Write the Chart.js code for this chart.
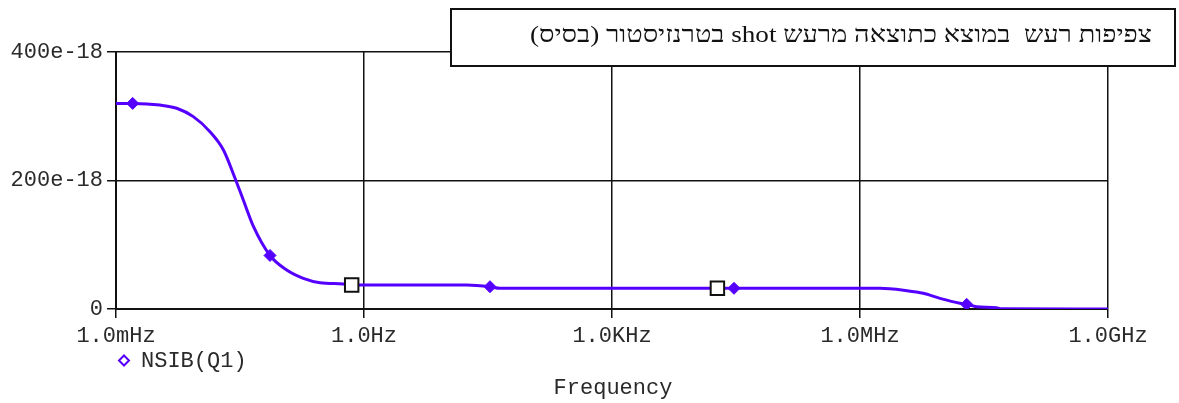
<!DOCTYPE html>
<html>
<head>
<meta charset="utf-8">
<script src="https://cdn.jsdelivr.net/npm/chart.js@4.4.1/dist/chart.umd.min.js"></script>
<style>
  html, body { margin: 0; padding: 0; background: #ffffff; }
  #wrap { width: 1179px; height: 403px; }
</style>
</head>
<body>
<div id="wrap"><canvas id="c" width="1179" height="403"></canvas></div>
<script>
// ---- Data ----
const titleText = "צפיפות רעש  במוצא כתוצאה מרעש shot בטרנזיסטור (בסיס)";
const seriesName = "NSIB(Q1)";
const xAxisTitle = "Frequency";

// frequency in Hz
const freqHz = [0.001, 0.001592, 0.003404, 0.00542, 0.00861, 0.01371, 0.01986, 0.02754, 0.03467,
  0.04581, 0.07295, 0.1161, 0.1845, 0.2938, 0.5623, 0.7096, 17.46, 33.42, 44.16,
  1746000, 3673000, 5834000, 9268000, 16180000, 19500000, 25760000, 44980000, 49320000, 1000000000];
// noise density, in units of 1e-18
const nsibE18 = [320, 320, 317.5, 312.4, 299.4, 276, 247.9, 203.6, 169.6,
  128.9, 83.3, 60.7, 47.8, 40.9, 38.9, 37.4, 37.4, 34.7, 32.2,
  32.2, 28.5, 24.4, 16.6, 8.9, 7.3, 3.6, 2.0, 0.5, 0];

// diamond markers on the trace
const markerFreqHz = [0.001592, 0.07295, 33.42, 29900, 19500000];
const markerE18 = [320, 83.3, 34.7, 32.2, 7.3];

// cursor squares
const cursorFreqHz = [0.7096, 18840];
const cursorE18 = [37.4, 32.2];

const xTickValues = [0.001, 1, 1000, 1000000, 1000000000];
const xTickLabels = ["1.0mHz", "1.0Hz", "1.0KHz", "1.0MHz", "1.0GHz"];
const yTickValues = [0, 200, 400];
const yTickLabels = ["0", "200e-18", "400e-18"];

// ---- Chart ----
const TRACE = "#5500ff";
const MONO = '"Liberation Mono", "DejaVu Sans Mono", monospace';
const TEXT = "#2a2a2a";

const toPts = (xs, ys) => xs.map((x, i) => ({ x: x, y: ys[i] }));

const overlay = {
  id: "overlay",
  afterDraw(chart) {
    const ctx = chart.ctx;
    ctx.save();
    // Title box
    ctx.fillStyle = "#ffffff";
    ctx.fillRect(451, 9, 724, 57);
    ctx.strokeStyle = "#111111";
    ctx.lineWidth = 2;
    ctx.strokeRect(451, 9, 724, 57);
    ctx.fillStyle = "#111111";
    ctx.font = '24px "Liberation Serif", "DejaVu Serif", serif';
    ctx.direction = "rtl";
    ctx.textAlign = "right";
    ctx.textBaseline = "middle";
    const targetW = 622;
    const w = ctx.measureText(titleText).width;
    const sx = w > 0 ? targetW / w : 1;
    ctx.save();
    ctx.translate(1152, 36);
    ctx.scale(sx, 1);
    ctx.fillText(titleText, 0, 0);
    ctx.restore();
    ctx.direction = "ltr";

    // Legend
    const lx = 124, ly = 360.5, r = 5;
    ctx.strokeStyle = TRACE;
    ctx.lineWidth = 2;
    ctx.beginPath();
    ctx.moveTo(lx, ly - r);
    ctx.lineTo(lx + r, ly);
    ctx.lineTo(lx, ly + r);
    ctx.lineTo(lx - r, ly);
    ctx.closePath();
    ctx.stroke();
    ctx.fillStyle = TEXT;
    ctx.font = "22px " + MONO;
    ctx.textAlign = "left";
    ctx.textBaseline = "middle";
    ctx.fillText(seriesName, 141, 361);

    // X axis title
    ctx.textAlign = "center";
    ctx.fillText(xAxisTitle, 613, 388);
    ctx.restore();
  }
};

new Chart(document.getElementById("c"), {
  type: "scatter",
  data: {
    datasets: [
      {
        label: seriesName,
        data: toPts(freqHz, nsibE18),
        showLine: true,
        borderColor: TRACE,
        backgroundColor: TRACE,
        borderWidth: 3,
        pointRadius: 0,
        cubicInterpolationMode: "monotone",
        order: 3
      },
      {
        label: "markers",
        data: toPts(markerFreqHz, markerE18),
        showLine: false,
        pointStyle: "rectRot",
        pointRadius: 6,
        backgroundColor: TRACE,
        borderColor: TRACE,
        borderWidth: 1,
        order: 2
      },
      {
        label: "cursors",
        data: toPts(cursorFreqHz, cursorE18),
        showLine: false,
        pointStyle: "rect",
        pointRadius: 9.5,
        backgroundColor: "#ffffff",
        borderColor: "#111111",
        borderWidth: 2,
        order: 1
      }
    ]
  },
  options: {
    responsive: false,
    animation: false,
    devicePixelRatio: 1,
    layout: { padding: { top: 52, right: 71, left: 0, bottom: 0 } },
    plugins: {
      legend: { display: false },
      tooltip: { enabled: false },
      title: { display: false }
    },
    scales: {
      x: {
        type: "logarithmic",
        min: 0.001,
        max: 1000000000,
        afterBuildTicks(scale) {
          scale.ticks = xTickValues.map(v => ({ value: v }));
        },
        afterFit(scale) { scale.height = 94; },
        ticks: {
          autoSkip: false,
          maxRotation: 0,
          padding: 5,
          color: TEXT,
          font: { family: MONO, size: 22 },
          callback: (value, index) => xTickLabels[index]
        },
        grid: {
          color: "#111111",
          lineWidth: 1.5,
          tickLength: 9,
          drawTicks: true
        },
        border: { color: "#111111", width: 2 }
      },
      y: {
        type: "linear",
        min: 0,
        max: 400,
        afterBuildTicks(scale) {
          scale.ticks = yTickValues.map(v => ({ value: v }));
        },
        afterFit(scale) { scale.width = 116; },
        ticks: {
          padding: 4,
          color: TEXT,
          font: { family: MONO, size: 22 },
          callback: (value, index) => yTickLabels[index]
        },
        grid: {
          color: "#111111",
          lineWidth: 1.5,
          tickLength: 9,
          drawTicks: true
        },
        border: { color: "#111111", width: 2 }
      }
    }
  },
  plugins: [overlay]
});
</script>
</body>
</html>
